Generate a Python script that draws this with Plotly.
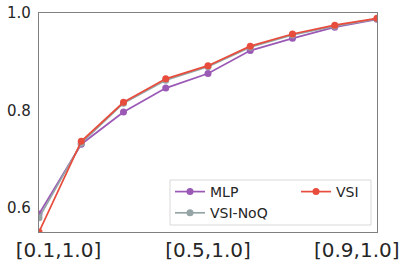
import plotly.graph_objects as go

thresholds = ["[0.1,1.0]", "[0.2,1.0]", "[0.3,1.0]", "[0.4,1.0]", "[0.5,1.0]",
              "[0.6,1.0]", "[0.7,1.0]", "[0.8,1.0]", "[0.9,1.0]"]
mlp = [0.588, 0.731, 0.797, 0.846, 0.876, 0.923, 0.948, 0.971, 0.987]
vsi_noq = [0.580, 0.733, 0.815, 0.862, 0.890, 0.930, 0.955, 0.973, 0.988]
vsi = [0.551, 0.737, 0.817, 0.865, 0.892, 0.932, 0.957, 0.975, 0.989]

tick_pos = [0.46, 4, 7.52]
tick_text = [thresholds[0], thresholds[4], thresholds[8]]
y_ticks = [0.6, 0.8, 1.0]

x = list(range(len(thresholds)))

PURPLE = "#9b59b6"
GRAY = "#95a5a6"
RED = "#e74c3c"

fig = go.Figure()
fig.add_trace(go.Scatter(x=x, y=mlp, name="MLP", mode="lines+markers",
                         line=dict(color=PURPLE, width=1.7),
                         marker=dict(color=PURPLE, size=7), legend="legend"))
fig.add_trace(go.Scatter(x=x, y=vsi_noq, name="VSI-NoQ", mode="lines+markers",
                         line=dict(color=GRAY, width=1.7),
                         marker=dict(color=GRAY, size=7), legend="legend"))
fig.add_trace(go.Scatter(x=x, y=vsi, name="VSI", mode="lines+markers",
                         line=dict(color=RED, width=1.7),
                         marker=dict(color=RED, size=7), legend="legend2"))

W, H = 407, 267
# plot area in window pixels: left 39, right 377, top 13, bottom 232
ml, mt = 39, 13
mr = W - 377
mb = H - 232
pw, ph = W - ml - mr, H - mt - mb

def px(xs):
    return (xs - ml) / pw

def py(ys):
    return (H - mb - ys) / ph

fig.add_shape(type="rect", xref="paper", yref="paper",
              x0=px(170), x1=px(371), y0=py(225), y1=py(180),
              line=dict(color="#d9d9d9", width=1), fillcolor="white", layer="above")

legend_font = dict(family="DejaVu Sans", size=14, color="#262626")
fig.update_layout(
    width=W, height=H,
    margin=dict(l=ml, r=mr, t=mt, b=mb, autoexpand=False),
    paper_bgcolor="white", plot_bgcolor="white",
    showlegend=True,
    legend=dict(x=px(170), y=py(176), xanchor="left", yanchor="top",
                bgcolor="rgba(0,0,0,0)", borderwidth=0, font=legend_font),
    legend2=dict(x=px(296), y=py(176), xanchor="left", yanchor="top",
                 bgcolor="rgba(0,0,0,0)", borderwidth=0, font=legend_font),
    xaxis=dict(range=[0, len(thresholds) - 1], tickvals=tick_pos, ticktext=tick_text,
               automargin=False, ticklabeloverflow="allow",
               showgrid=False, zeroline=False, showline=True, mirror=True,
               linecolor="#808080", linewidth=1.3,
               ticks="",
               tickfont=dict(family="DejaVu Sans", size=20, color="#262626")),
    yaxis=dict(range=[0.551, 1.0], tickvals=y_ticks, ticktext=["0.6", "0.8", "1.0"],
               automargin=False, ticklabeloverflow="allow",
               showgrid=False, zeroline=False, showline=True, mirror=True,
               linecolor="#808080", linewidth=1.3,
               ticks="outside", ticklen=4, tickcolor="rgba(0,0,0,0)",
               tickfont=dict(family="DejaVu Sans", size=15, color="#262626")),
)

fig.write_html("out.html", config={"displayModeBar": False},
               post_script="document.body.style.margin='0';document.body.style.overflow='hidden';")
